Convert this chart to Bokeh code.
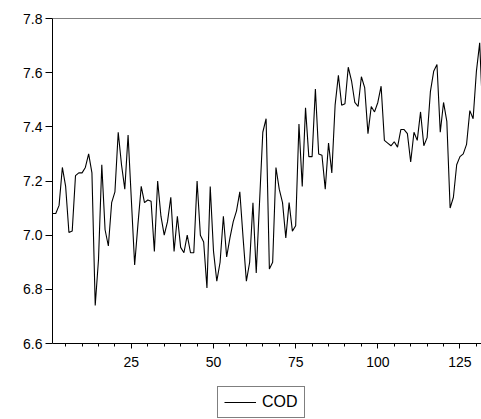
from bokeh.plotting import figure
from bokeh.models import Range1d, FixedTicker, PrintfTickFormatter, Span, Legend, LegendItem
from bokeh.embed import file_html
from bokeh.resources import INLINE

obs = list(range(1, 133))
cod = [7.08, 7.08, 7.11, 7.25, 7.18, 7.01, 7.015, 7.22, 7.23, 7.23,
       7.25, 7.30, 7.23, 6.74, 6.91, 7.26, 7.02, 6.96, 7.12, 7.16,
       7.38, 7.26, 7.17, 7.37, 7.13, 6.89, 7.04, 7.18, 7.12, 7.13,
       7.125, 6.94, 7.20, 7.07, 7.00, 7.05, 7.14, 6.94, 7.07, 6.955,
       6.935, 7.00, 6.935, 6.935, 7.20, 7.00, 6.975, 6.805, 7.18, 6.94,
       6.83, 6.90, 7.07, 6.92, 6.99, 7.05, 7.09, 7.16, 6.99, 6.83,
       6.90, 7.12, 6.86, 7.12, 7.38, 7.43, 6.875, 6.90, 7.25, 7.17,
       7.12, 6.99, 7.12, 7.015, 7.035, 7.41, 7.18, 7.47, 7.29, 7.29,
       7.54, 7.30, 7.295, 7.17, 7.34, 7.23, 7.48, 7.59, 7.48, 7.485,
       7.62, 7.57, 7.49, 7.475, 7.585, 7.545, 7.375, 7.475, 7.455, 7.49,
       7.55, 7.35, 7.34, 7.33, 7.345, 7.325, 7.39, 7.39, 7.375, 7.27,
       7.38, 7.35, 7.455, 7.33, 7.36, 7.53, 7.605, 7.63, 7.38, 7.49,
       7.42, 7.10, 7.14, 7.26, 7.29, 7.30, 7.335, 7.46, 7.43, 7.605,
       7.71, 7.42]

x_major = [25, 50, 75, 100, 125]
x_minor = list(range(5, 135, 5))
y_ticks = [6.6, 6.8, 7.0, 7.2, 7.4, 7.6, 7.8]
series_name = "COD"

FONT = "Liberation Sans"

Y_LO, Y_HI = 6.6, 7.8
PX_PER_UNIT = 325 / (Y_HI - Y_LO)
BOTTOM_PAD = 76  # pixels below the 6.6 line reserved for tick labels + legend

p = figure(width=481, height=419, output_backend="svg", toolbar_location=None,
           x_range=Range1d(1, 131.55),
           y_range=Range1d(Y_LO - BOTTOM_PAD / PX_PER_UNIT, Y_HI),
           min_border_left=52, min_border_right=0, min_border_top=18,
           min_border_bottom=0)
p.outline_line_color = None
p.xgrid.visible = False
p.ygrid.visible = False
p.background_fill_color = "white"
p.border_fill_color = "white"

r = p.line(obs, cod, line_color="black", line_width=1.1)

p.add_layout(Span(location=Y_HI, dimension="width", line_color="black", line_width=1))

xa = p.xaxis[0]
xa.fixed_location = Y_LO
xa.ticker = FixedTicker(ticks=x_major, minor_ticks=x_minor)
xa.major_tick_out = 5
xa.major_tick_in = 0
xa.minor_tick_out = 3
xa.minor_tick_in = 0
xa.axis_line_color = "black"
xa.major_tick_line_color = "black"
xa.minor_tick_line_color = "black"
xa.major_label_text_font = FONT
xa.major_label_text_font_size = "14px"
xa.major_label_text_color = "black"
xa.major_label_standoff = 8

ya = p.yaxis[0]
ya.bounds = (Y_LO, Y_HI)
ya.ticker = FixedTicker(ticks=y_ticks, minor_ticks=[])
ya.formatter = PrintfTickFormatter(format="%.1f")
ya.major_tick_out = 7
ya.major_tick_in = 0
ya.minor_tick_out = 0
ya.minor_tick_in = 0
ya.axis_line_color = "black"
ya.major_tick_line_color = "black"
ya.major_label_text_font = FONT
ya.major_label_text_font_size = "14px"
ya.major_label_text_color = "black"
ya.major_label_standoff = 3

legend = Legend(items=[LegendItem(label=series_name, renderers=[r])],
                location=(165, 1), orientation="horizontal",
                border_line_color="black", border_line_width=1,
                background_fill_alpha=1, padding=6, margin=0, spacing=0,
                glyph_width=32, glyph_height=16, label_standoff=6,
                label_text_font=FONT, label_text_font_size="16px",
                label_text_color="black")
p.add_layout(legend, "center")

open("out.html", "w").write(file_html(p, INLINE))
